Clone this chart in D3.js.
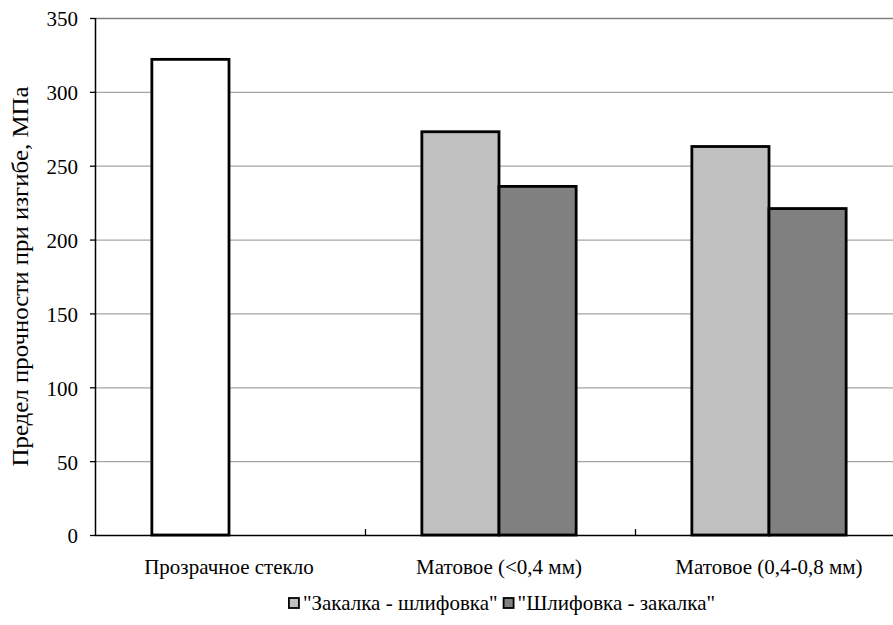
<!DOCTYPE html>
<html><head><meta charset="utf-8">
<script src="https://cdn.jsdelivr.net/npm/d3@7"></script>
<style>body{margin:0;background:#fff}svg{display:block}</style>
</head><body>
<script>
const categories = ["Прозрачное стекло", "Матовое (<0,4 мм)", "Матовое (0,4-0,8 мм)"];
const seriesNames = ['"Закалка - шлифовка"', '"Шлифовка - закалка"'];
const series1 = [322, 273, 263];
const series2 = [null, 236, 221];
const seriesColors = ["#c0c0c0", "#808080"];
const pointOverrides = [{series: 0, category: 0, fill: "#ffffff"}];
const yTicks = [0, 50, 100, 150, 200, 250, 300, 350];
const yTitle = "Предел прочности при изгибе, МПа";

const FONT = "'Liberation Serif', 'Times New Roman', serif";
const W = 893, H = 625;
const m = {left: 95, top: 18, bottom: 535, right: 905};
const svg = d3.select("body").append("svg").attr("width", W).attr("height", H)
  .attr("font-family", FONT);

const x = d3.scaleBand().domain(categories).range([m.left, m.right]).padding(0);
const xi = d3.scaleBand().domain([0, 1]).range([0, x.bandwidth()]).paddingInner(0).paddingOuter(0.75);
const y = d3.scaleLinear().domain([0, 350]).range([m.bottom, m.top]);

// gridlines
svg.append("g").selectAll("line").data(yTicks.filter(d => d > 0)).join("line")
  .attr("x1", m.left).attr("x2", m.right)
  .attr("y1", d => y(d) + 0.5).attr("y2", d => y(d) + 0.5)
  .attr("stroke", d => d === 350 ? "#808080" : "#a6a6a6").attr("stroke-width", 1.3);

// bars
const data = [series1, series2];
const bars = [];
data.forEach((s, si) => s.forEach((v, ci) => {
  if (v == null) return;
  const ov = pointOverrides.find(o => o.series === si && o.category === ci);
  bars.push({si, ci, v, fill: ov ? ov.fill : seriesColors[si]});
}));
svg.append("g").selectAll("rect").data(bars).join("rect")
  .attr("x", d => x(categories[d.ci]) + xi(d.si) - 1)
  .attr("width", xi.bandwidth())
  .attr("y", d => y(d.v))
  .attr("height", d => y(0) - y(d.v))
  .attr("fill", d => d.fill)
  .attr("stroke", "#000").attr("stroke-width", 2.8);

// y axis
const yAxis = svg.append("g").attr("transform", `translate(${m.left},0)`)
  .call(d3.axisLeft(y).tickValues(yTicks).tickSize(5).tickPadding(12).tickFormat(d3.format("d")));
yAxis.attr("font-family", FONT).attr("font-size", null);
yAxis.select(".domain").attr("stroke", "#000").attr("stroke-width", 1.5).attr("d", `M0.5,${m.top}V${m.bottom}`);
yAxis.selectAll(".tick line").attr("stroke", "#000").attr("stroke-width", 1.3);
yAxis.selectAll(".tick text").style("font-size", "21px").style("font-family", FONT).attr("fill", "#000").attr("dy", "0.38em");

// x axis
const xAxis = svg.append("g").attr("transform", `translate(0,${m.bottom})`);
xAxis.append("line").attr("x1", m.left).attr("x2", m.right).attr("y1", 0.5).attr("y2", 0.5)
  .attr("stroke", "#000").attr("stroke-width", 1.5);
xAxis.selectAll(".xt").data(categories.slice(1)).join("line").attr("class", "xt")
  .attr("x1", d => x(d) + 0.5).attr("x2", d => x(d) + 0.5).attr("y1", 0).attr("y2", -6)
  .attr("stroke", "#000").attr("stroke-width", 1.3);
xAxis.selectAll("text").data(categories).join("text")
  .attr("x", d => x(d) + x.bandwidth() / 2 - 1).attr("y", 39)
  .attr("text-anchor", "middle").style("font-size", "21px").style("font-family", FONT).text(d => d);

// y title
svg.append("text").attr("transform", `translate(28,${(m.top + m.bottom) / 2}) rotate(-90)`)
  .attr("text-anchor", "middle").style("font-size", "23px").style("font-family", FONT)
  .attr("textLength", 380).attr("lengthAdjust", "spacingAndGlyphs").text(yTitle);

// legend
const lg = svg.append("g");
const items = lg.selectAll("g").data(seriesNames).join("g");
items.append("rect").attr("width", 10).attr("height", 10).attr("y", -12)
  .attr("fill", (d, i) => seriesColors[i]).attr("stroke", "#000").attr("stroke-width", 1.8);
items.append("text").attr("x", 14).attr("y", 0).style("font-size", "21px").style("font-family", FONT).text(d => d);
const widths = [];
items.each(function () { widths.push(this.getBBox().width); });
const total = d3.sum(widths) + 6 * (widths.length - 1);
let cx = 502 - total / 2;
items.attr("transform", (d, i) => { const t = `translate(${cx},610)`; cx += widths[i] + 6; return t; });
</script>
</body></html>
